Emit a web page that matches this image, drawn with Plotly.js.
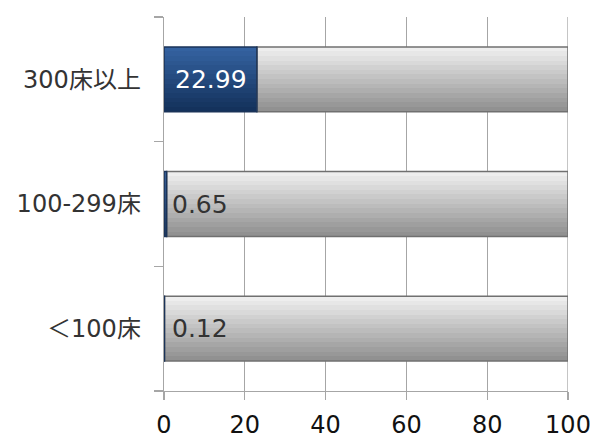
<!DOCTYPE html>
<html>
<head>
<meta charset="utf-8">
<script src="https://cdn.plot.ly/plotly-3.0.1.min.js"></script>
<style>html,body{margin:0;padding:0;background:#fff;}#chart{width:590px;height:438px;}</style>
</head>
<body>
<div id="chart"></div>
<script>
// Data (bottom to top)
const categories = ['＜100床', '100-299床', '300床以上'];
const values = [0.12, 0.65, 22.99];
const totalValue = 100;
const xTickValues = [0, 20, 40, 60, 80, 100];

// Styles
const BAR_W = 0.52;
const STRIPES = 14;
const grayTop = [238, 238, 238], grayBot = [145, 145, 145];
const blueTop = [52, 98, 160], blueBot = [20, 50, 92];
const FONT = '"DejaVu Sans", "Noto Sans CJK JP", sans-serif';

function mix(a, b, t) {
  return 'rgb(' + a.map((v, i) => Math.round(v + (b[i] - v) * t)).join(',') + ')';
}

const remainder = values.map(v => totalValue - v);
const traces = [];
for (let k = 0; k < STRIPES; k++) {
  const t = k / (STRIPES - 1);
  const off = BAR_W / 2 - (k + 1) * BAR_W / STRIPES;
  traces.push({
    type: 'bar', orientation: 'h', y: categories, x: remainder, base: values,
    width: BAR_W / STRIPES + 0.002, offset: off,
    marker: {color: mix(grayTop, grayBot, t), line: {width: 0}},
    hoverinfo: 'skip', showlegend: false
  });
  traces.push({
    type: 'bar', orientation: 'h', y: categories, x: values, base: 0,
    width: BAR_W / STRIPES + 0.002, offset: off,
    marker: {color: mix(blueTop, blueBot, t), line: {width: 0}},
    hoverinfo: 'skip', showlegend: false
  });
}
// outlines
traces.push({
  type: 'bar', orientation: 'h', y: categories, x: remainder, base: values,
  width: BAR_W, marker: {color: 'rgba(0,0,0,0)', line: {color: '#707070', width: 1.5}},
  hoverinfo: 'skip', showlegend: false
});
traces.push({
  type: 'bar', orientation: 'h', y: categories, x: values, base: 0,
  width: BAR_W, marker: {color: 'rgba(0,0,0,0)', line: {color: '#1a3358', width: 1.5}},
  hoverinfo: 'skip', showlegend: false
});

const annotations = values.map((v, i) => {
  const big = v > 5;
  return {
    x: big ? v / 2 : 0, y: categories[i], xref: 'x', yref: 'y',
    text: v.toFixed(2), showarrow: false,
    xanchor: big ? 'center' : 'left', xshift: big ? 1 : 6,
    font: {family: FONT, size: 25, color: big ? '#ffffff' : '#333333'}
  };
});

const layout = {
  width: 590, height: 438,
  margin: {l: 164, r: 22, t: 17, b: 47},
  paper_bgcolor: '#ffffff', plot_bgcolor: '#ffffff',
  barmode: 'overlay', bargap: 0,
  showlegend: false,
  xaxis: {
    range: [0, totalValue], tickvals: xTickValues, ticktext: xTickValues.map(String),
    showgrid: true, gridcolor: '#a6a6a6', gridwidth: 1.3,
    showline: true, linecolor: '#a6a6a6', linewidth: 1.3,
    ticks: 'outside', ticklen: 8, tickcolor: '#a6a6a6', tickwidth: 1.3,
    ticklabeloverflow: 'allow', ticklabelstandoff: 4,
    zeroline: false, fixedrange: true,
    tickfont: {family: FONT, size: 24, color: '#111111'}
  },
  yaxis: {
    type: 'category', categoryorder: 'array', categoryarray: categories,
    range: [-0.5, 2.5],
    showline: true, linecolor: '#a6a6a6', linewidth: 1.3,
    ticks: 'outside', tickson: 'boundaries', ticklen: 9, tickcolor: '#a6a6a6', tickwidth: 1.3,
    ticklabelstandoff: 17,
    showgrid: false, zeroline: false, fixedrange: true,
    tickfont: {family: FONT, size: 24, color: '#333333'}
  },
  shapes: [{
    type: 'line', xref: 'x', yref: 'paper', x0: totalValue, x1: totalValue, y0: 0, y1: 1,
    line: {color: '#a6a6a6', width: 1.3}, layer: 'below'
  }],
  annotations: annotations
};

Plotly.newPlot('chart', traces, layout, {staticPlot: true, displayModeBar: false});
</script>
</body>
</html>
